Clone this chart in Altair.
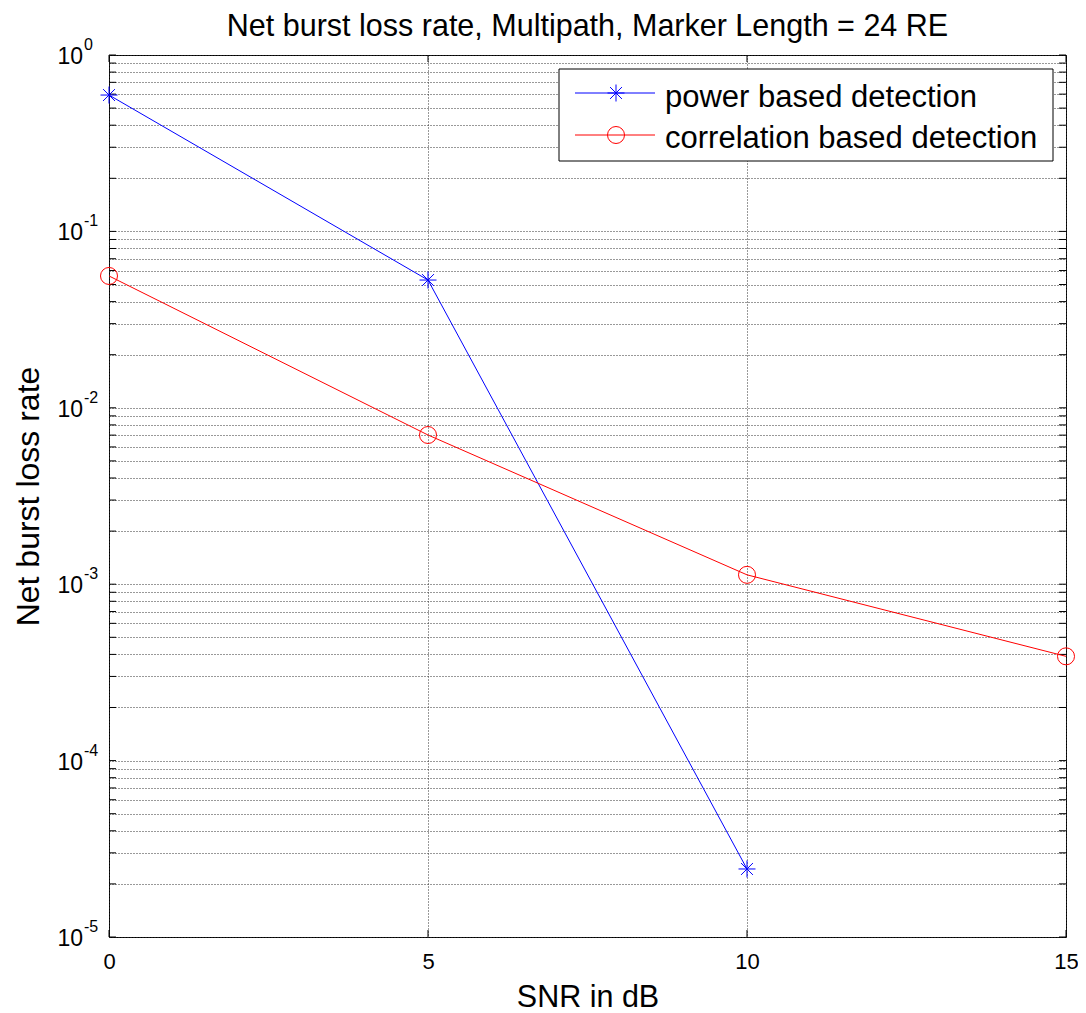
import altair as alt
import pandas as pd

# ---- data ----
snr_power = [0, 5, 10]
rate_power = [0.593, 0.053, 2.43e-5]
snr_corr = [0, 5, 10, 15]
rate_corr = [0.0559, 0.00701, 0.00113, 0.00039]
series_names = ["power based detection", "correlation based detection"]
series_colors = ["#0000FF", "#FF0000"]
x_ticks = [0, 5, 10, 15]
y_exponents = [0, -1, -2, -3, -4, -5]
title_text = "Net burst loss rate, Multipath, Marker Length = 24 RE"
x_title = "SNR in dB"
y_title = "Net burst loss rate"

W, H = 957, 882
FONT = "Liberation Sans"
ASTERISK = "M-1,0L1,0M0,-1L0,1M-0.7,-0.7L0.7,0.7M-0.7,0.7L0.7,-0.7"
GRID = "#333333"

df = pd.DataFrame({
    "snr": snr_power + snr_corr,
    "rate": rate_power + rate_corr,
    "series": [series_names[0]] * len(snr_power) + [series_names[1]] * len(snr_corr),
})

y_grid = [m * 10.0 ** e for e in range(-5, 0) for m in range(1, 10)] + [1.0]
df_ygrid = pd.DataFrame({"rate": y_grid})
df_major = pd.DataFrame({
    "rate": [10.0 ** e for e in y_exponents],
    "base": ["10"] * len(y_exponents),
    "exp": [str(e) for e in y_exponents],
})
df_xt = pd.DataFrame({"snr": x_ticks})

xs = alt.Scale(domain=[0, 15], nice=False, zero=False)
ys = alt.Scale(type="log", domain=[1e-5, 1], nice=False)

xenc = alt.X("snr:Q", scale=xs, axis=alt.Axis(
    values=x_ticks, title=x_title, grid=True, gridDash=[1, 2], gridColor=GRID,
    gridOpacity=1, ticks=False, domain=False, labelFontSize=22, labelFont=FONT,
    labelColor="black", labelBaseline="alphabetic", labelPadding=31, labelFlush=False,
    titleFontSize=30.5, titleFont=FONT, titleFontWeight="normal", titleColor="black",
    titleBaseline="alphabetic", titleY=69))
yenc = alt.Y("rate:Q", scale=ys, axis=alt.Axis(
    values=y_grid, labels=False, title=y_title, grid=True, gridDash=[1, 2],
    gridColor=GRID, gridOpacity=1, ticks=False, domain=False,
    titleFontSize=32, titleFont=FONT, titleFontWeight="normal", titleColor="black",
    titleBaseline="alphabetic", titleX=-71, titleAngle=-90))

color = alt.Color("series:N", scale=alt.Scale(domain=series_names, range=series_colors), legend=None)
shape = alt.Shape("series:N", scale=alt.Scale(domain=series_names, range=[ASTERISK, "circle"]), legend=None)

lines = alt.Chart(df).mark_line(strokeWidth=1).encode(x=xenc, y=yenc, color=color)
points = alt.Chart(df).mark_point(filled=False, size=289, strokeWidth=1, opacity=1).encode(
    x=xenc, y=yenc, color=color, shape=shape)

# inward tick marks (MATLAB style)
lt = alt.Chart(df_ygrid).mark_rule(color="black").encode(y=yenc, x=alt.value(0), x2=alt.value(7))
rt = alt.Chart(df_ygrid).mark_rule(color="black").encode(y=yenc, x=alt.value(W - 7), x2=alt.value(W))
bt = alt.Chart(df_xt).mark_rule(color="black").encode(x=xenc, y=alt.value(H - 7), y2=alt.value(H))
tt = alt.Chart(df_xt).mark_rule(color="black").encode(x=xenc, y=alt.value(0), y2=alt.value(7))

# y tick labels 10^k
base_lbl = alt.Chart(df_major).mark_text(align="right", baseline="alphabetic", dy=9,
                                         fontSize=23, font=FONT, color="black").encode(
    y=yenc, x=alt.value(-26), text="base:N")
exp_lbl = alt.Chart(df_major).mark_text(align="left", baseline="alphabetic", dy=-5,
                                        fontSize=16, font=FONT, color="black").encode(
    y=yenc, x=alt.value(-25), text="exp:N")

# chart title
title_layer = alt.Chart(pd.DataFrame({"t": [title_text]})).mark_text(
    align="center", baseline="alphabetic", fontSize=30.5, font=FONT, color="black").encode(
    x=alt.value(W / 2), y=alt.value(-19), text="t:N")

# legend box
one = pd.DataFrame({"k": [0]})
legend_layers = [alt.Chart(one).mark_rect(fill="white", stroke="black", strokeWidth=1).encode(
    x=alt.value(450), x2=alt.value(944), y=alt.value(14), y2=alt.value(106))]
row_y = [38, 80]
row_base = [52, 93]
shapes = [ASTERISK, "circle"]
for i, name in enumerate(series_names):
    d = pd.DataFrame({"label": [name]})
    legend_layers.append(alt.Chart(d).mark_rule(color=series_colors[i], strokeWidth=1).encode(
        x=alt.value(466), x2=alt.value(546), y=alt.value(row_y[i])))
    legend_layers.append(alt.Chart(d).mark_point(shape=shapes[i], filled=False, size=289,
                                                 strokeWidth=1, color=series_colors[i], opacity=1).encode(
        x=alt.value(507), y=alt.value(row_y[i])))
    legend_layers.append(alt.Chart(d).mark_text(align="left", baseline="alphabetic", fontSize=31,
                                                font=FONT, color="black").encode(
        x=alt.value(556), y=alt.value(row_base[i]), text="label:N"))

chart = alt.layer(lt, rt, bt, tt, lines, points, base_lbl, exp_lbl, title_layer,
                  *legend_layers).properties(
    width=W, height=H,
    padding={"left": 101, "top": 47, "right": 12, "bottom": 76},
    autosize=alt.AutoSizeParams(type="none"),
    background="white",
).configure_view(stroke="black", strokeWidth=1)

chart.save("out.html", embed_options={"renderer": "svg", "actions": False})
